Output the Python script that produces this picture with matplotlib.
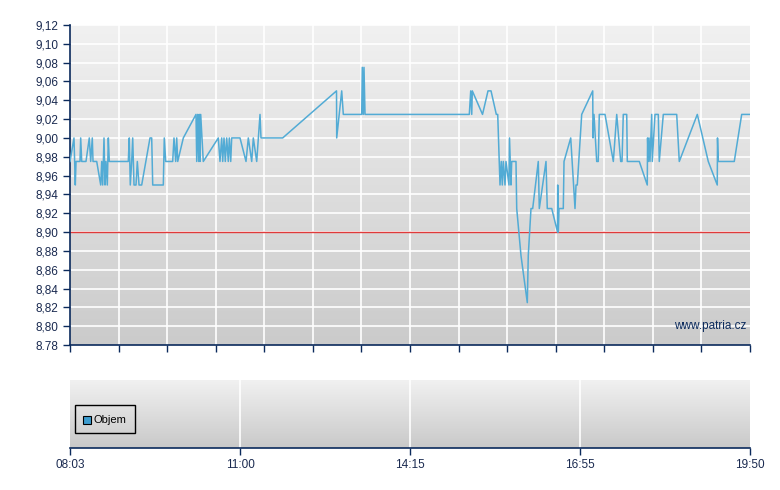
import numpy as np
import matplotlib
matplotlib.use("Agg")
import matplotlib.pyplot as plt
from matplotlib.patches import Rectangle

plt.rcParams['font.family'] = ['Liberation Sans', 'DejaVu Sans']

# session position (0..14 slots) and price
pos = [0, 0.082, 0.109, 0.124, 0.206, 0.220, 0.241, 0.329, 0.397, 0.426, 0.459, 0.474,
       0.550, 0.632, 0.653, 0.673, 0.700, 0.721, 0.741, 0.768, 0.789, 0.809, 1.200,
       1.221, 1.241, 1.270, 1.291, 1.318, 1.359, 1.386, 1.421, 1.476, 1.647, 1.682,
       1.703, 1.921, 1.941, 1.970, 2.114, 2.141, 2.176, 2.197, 2.218, 2.333, 2.594,
       2.609, 2.629, 2.650, 2.662, 2.676, 2.691, 2.744, 3.053, 3.088, 3.123, 3.144,
       3.171, 3.197, 3.226, 3.259, 3.280, 3.309, 3.329, 3.500, 3.624, 3.671, 3.741,
       3.774, 3.844, 3.912, 3.932, 4.379, 5.487, 5.491, 5.594, 5.627, 6.006, 6.018,
       6.039, 6.053, 6.074, 8.221, 8.250, 8.271, 8.283, 8.493, 8.606, 8.668, 8.777,
       8.806, 8.853, 8.879, 8.900, 8.921, 8.956, 8.976, 9.038, 9.049, 9.079, 9.094,
       9.182, 9.197, 9.285, 9.415, 9.435, 9.491, 9.526, 9.641, 9.662, 9.800, 9.826,
       9.918, 10.037, 10.041, 10.053, 10.068, 10.156, 10.171, 10.309, 10.397, 10.418,
       10.444, 10.535, 10.762, 10.768, 10.788, 10.844, 10.876, 10.897, 11.015, 11.186,
       11.256, 11.338, 11.365, 11.391, 11.462, 11.474, 11.721, 11.885, 11.891, 11.906,
       11.921, 11.941, 11.976, 11.988, 12.044, 12.112, 12.132, 12.215, 12.491, 12.544,
       12.915, 13.141, 13.326, 13.331, 13.347, 13.676, 13.829, 14.0]
price = [8.975, 9.00, 8.95, 8.975, 8.975, 9.00, 8.975, 8.975, 9.00, 8.975, 9.00, 8.975,
         8.975, 8.95, 8.975, 8.95, 9.00, 8.95, 8.975, 8.95, 9.00, 8.975, 8.975,
         9.00, 8.95, 8.975, 9.00, 8.95, 8.95, 8.975, 8.95, 8.95, 9.00, 9.00,
         8.95, 8.95, 9.00, 8.975, 8.975, 9.00, 8.975, 9.00, 8.975, 9.00, 9.025,
         8.975, 9.025, 8.975, 9.025, 8.975, 9.025, 8.975, 9.00, 8.975, 9.00, 8.975,
         9.00, 8.975, 9.00, 8.975, 9.00, 8.975, 9.00, 9.00, 8.975, 9.00, 8.975,
         9.00, 8.975, 9.025, 9.00, 9.00, 9.05, 9.00, 9.05, 9.025, 9.025, 9.075,
         9.025, 9.075, 9.025, 9.025, 9.05, 9.025, 9.05, 9.025, 9.05, 9.05, 9.025,
         9.025, 8.95, 8.975, 8.95, 8.975, 8.95, 8.975, 8.95, 9.00, 8.95, 8.975,
         8.975, 8.925, 8.875, 8.825, 8.875, 8.925, 8.925, 8.975, 8.925, 8.975, 8.925,
         8.925, 8.90, 8.95, 8.90, 8.925, 8.925, 8.975, 9.00, 8.925, 8.95,
         8.95, 9.025, 9.05, 9.00, 9.025, 8.975, 8.975, 9.025, 9.025, 8.975,
         9.025, 8.975, 8.975, 9.025, 9.025, 8.975, 8.975, 8.95, 9.00, 8.975,
         9.00, 8.975, 9.025, 8.975, 9.025, 9.025, 8.975, 9.025, 9.025, 8.975,
         9.025, 8.975, 8.95, 9.00, 8.975, 8.975, 9.025, 9.025]

ref_price = 8.90
y_ticks = [8.78 + 0.02 * i for i in range(18)]
y_labels = ["8.78"] + [f"{v:.2f}".replace(".", ",") for v in y_ticks[1:]]
x_tick_pos = [0, 3.5, 7, 10.5, 14]
x_tick_labels = ["08:03", "11:00", "14:15", "16:55", "19:50"]
legend_label = "Objem"
watermark = "www.patria.cz"

W, H = 780, 490
fig = plt.figure(figsize=(W / 100, H / 100), dpi=100)
fig.patch.set_facecolor("white")

navy = "#0b2a5c"
line_col = "#52abd5"


def gradient(ax, top, bottom):
    g = np.linspace(0, 1, 256).reshape(-1, 1)
    c1 = np.array(matplotlib.colors.to_rgb(top))
    c2 = np.array(matplotlib.colors.to_rgb(bottom))
    img = c1[None, None, :] * (1 - g[:, :, None]) + c2[None, None, :] * g[:, :, None]
    ax.imshow(img, extent=[0, 1, 0, 1], transform=ax.transAxes, aspect="auto",
              zorder=0, interpolation="bilinear")


# Main axes
ax = fig.add_axes([70 / W, 1 - 345 / H, 680 / W, 320 / H])
gradient(ax, "#f1f1f1", "#cbcbcb")
ax.set_xlim(0, 14)
ax.set_ylim(8.78, 9.12)
ax.set_yticks(y_ticks)
ax.set_yticklabels(y_labels)
ax.set_xticks(range(15))
ax.set_xticklabels([])
for v in y_ticks[1:]:
    ax.axhline(v, color="white", lw=1.2, zorder=1)
for v in range(1, 14):
    ax.axvline(v, color="white", lw=1.2, zorder=1)
ax.axhline(ref_price, color="#e03a3a", lw=1.0, zorder=2)
ax.plot(pos, price, color=line_col, lw=1.1, zorder=3)
for s in ["top", "right"]:
    ax.spines[s].set_visible(False)
for s in ["left", "bottom"]:
    ax.spines[s].set_color(navy)
    ax.spines[s].set_linewidth(1.2)
ax.tick_params(axis="both", colors=navy, length=5, width=1, labelsize=8.5,
               labelcolor="#1a2a50")
ax.text(0.995, 0.06, watermark, transform=ax.transAxes, ha="right", va="center",
        fontsize=8.5, color=navy, zorder=4)

# Bottom (volume) axes
ax2 = fig.add_axes([70 / W, 1 - 448 / H, 680 / W, 68 / H])
gradient(ax2, "#f1f1f1", "#c9c9c9")
ax2.set_xlim(0, 14)
ax2.set_ylim(0, 1)
ax2.set_yticks([])
ax2.set_xticks(x_tick_pos)
ax2.set_xticklabels(x_tick_labels)
for v in x_tick_pos[1:-1]:
    ax2.axvline(v, color="white", lw=1.2, zorder=1)
for s in ["top", "right", "left"]:
    ax2.spines[s].set_visible(False)
ax2.spines["bottom"].set_color(navy)
ax2.spines["bottom"].set_linewidth(1.2)
ax2.tick_params(axis="x", colors=navy, length=5, width=1, labelsize=8.5,
                labelcolor="#1a2a50", pad=3)

# legend box
bx0, by0 = 5 / 680, (448 - 433) / 68
bw, bh = 60 / 680, 28 / 68
ax2.add_patch(Rectangle((bx0, by0), bw, bh, transform=ax2.transAxes,
                        facecolor="none", edgecolor="black", lw=1, zorder=5))
ax2.add_patch(Rectangle((13 / 680, (448 - 424) / 68), 8 / 680, 8 / 68,
                        transform=ax2.transAxes, facecolor="#3d9dd0",
                        edgecolor="black", lw=0.8, zorder=6))
ax2.text(24 / 680, (448 - 420) / 68, legend_label, transform=ax2.transAxes,
         ha="left", va="center", fontsize=8, color="black", zorder=6)

fig.savefig("out.png", dpi=100)
